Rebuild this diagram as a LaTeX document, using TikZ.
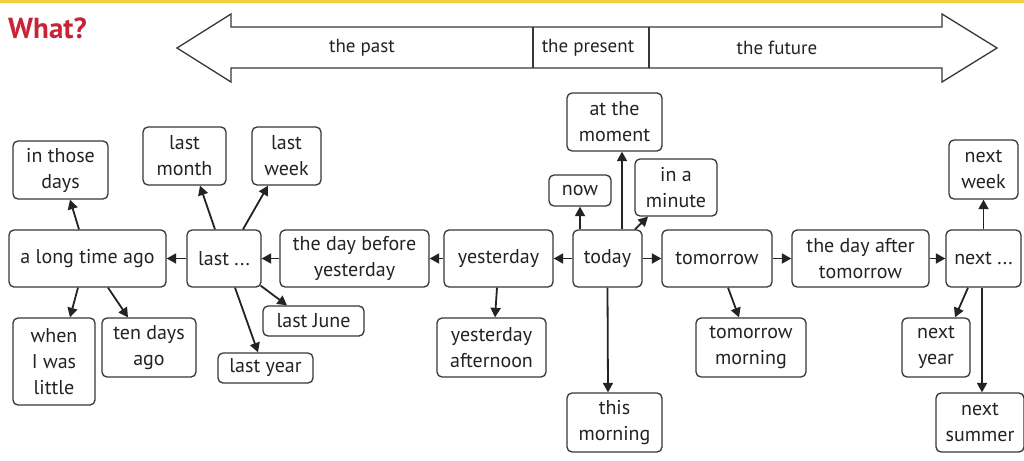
\documentclass[tikz,border=0pt]{standalone}
\usepackage{fontspec}
\setmainfont{PT Sans}
\usepackage{tikz}
\usetikzlibrary{arrows.meta}
\definecolor{linegray}{RGB}{55,55,55}
\definecolor{textgray}{RGB}{35,35,35}
\definecolor{whatred}{RGB}{200,35,55}
\definecolor{topyellow}{RGB}{242,208,62}
\tikzstyle{tbox}=[rectangle,rounded corners=5pt,draw=linegray,line width=1.3pt,fill=white,
                  align=center,inner sep=2pt,text=textgray,font=\fontsize{20}{26}\selectfont]
\tikzstyle{arrow}=[-{Triangle[length=9.5pt,width=10pt]},line width=1.8pt,draw=textgray]
\tikzstyle{bandtext}=[text=textgray,font=\fontsize{19}{23}\selectfont]

\begin{document}
\begin{tikzpicture}[x=1pt,y=-1pt]
      \useasboundingbox (0,0) rectangle (1024,460);
      \fill[topyellow] (0,0) rectangle (1024,3);
      \node[anchor=base west,inner sep=0pt,text=whatred,font=\fontsize{29}{32}\selectfont\bfseries] (what) at (8,38) {What?};

      % time band
      \draw[linegray,line width=1.3pt,fill=white] (177,48) -- (231,14) -- (231,27) -- (942,27) -- (942,14)
           -- (997,48) -- (942,82) -- (942,68) -- (231,68) -- (231,82) -- cycle;
      \draw[linegray,line width=1.3pt] (533,27) -- (533,68) (649,27) -- (649,68);
      \node[bandtext] (past) at (362,48) {the past};
      \node[bandtext] (present) at (588,48) {the present};
      \node[bandtext] (future) at (777,48) {the future};

      % main row
      \node[tbox,minimum width=157pt,minimum height=57pt] (ago) at (87.5,258.5) {a long time ago};
      \node[tbox,minimum width=74pt,minimum height=57pt] (last) at (224,258.5) {last ...};
      \node[tbox,minimum width=149pt,minimum height=57pt] (dby) at (354.5,258.5) {the day before\\yesterday};
      \node[tbox,minimum width=109pt,minimum height=57pt] (yest) at (498.5,258.5) {yesterday};
      \node[tbox,minimum width=69pt,minimum height=57pt] (today) at (607.5,258.5) {today};
      \node[tbox,minimum width=110pt,minimum height=57pt] (tom) at (717,258.5) {tomorrow};
      \node[tbox,minimum width=137pt,minimum height=57pt] (dat) at (860.5,258.5) {the day after\\tomorrow};
      \node[tbox,minimum width=75pt,minimum height=57pt] (next) at (983.5,258.5) {next ...};

      % past side
      \node[tbox,minimum width=95pt,minimum height=58pt] (those) at (60.5,170) {in those\\days};
      \node[tbox,minimum width=82pt,minimum height=87pt] (little) at (54,361.5) {when\\I was\\little};
      \node[tbox,minimum width=94pt,minimum height=59pt] (tendays) at (149,347.5) {ten days\\ago};
      \node[tbox,minimum width=83pt,minimum height=58pt] (month) at (184.5,156) {last\\month};
      \node[tbox,minimum width=69pt,minimum height=58pt] (week) at (286.5,156) {last\\week};
      \node[tbox,minimum width=101pt,minimum height=30pt] (june) at (313.5,321) {last June};
      \node[tbox,minimum width=95pt,minimum height=30pt] (lyear) at (265.5,368) {last year};
      \node[tbox,minimum width=109pt,minimum height=59pt] (yaft) at (491.5,347.5) {yesterday\\afternoon};

      % present
      \node[tbox,minimum width=95pt,minimum height=58pt] (moment) at (614.5,122) {at the\\moment};
      \node[tbox,minimum width=62pt,minimum height=31pt] (now) at (580,190.5) {now};
      \node[tbox,minimum width=82pt,minimum height=57pt] (minute) at (676,187.5) {in a\\minute};
      \node[tbox,minimum width=95pt,minimum height=59pt] (tmorning) at (614.5,422.5) {this\\morning};

      % future side
      \node[tbox,minimum width=110pt,minimum height=59pt] (tommorn) at (751,347.5) {tomorrow\\morning};
      \node[tbox,minimum width=69pt,minimum height=59pt] (nweek) at (983.5,169.5) {next\\week};
      \node[tbox,minimum width=68pt,minimum height=59pt] (nyear) at (936,347.5) {next\\year};
      \node[tbox,minimum width=88pt,minimum height=59pt] (nsummer) at (980,422.5) {next\\summer};

      \draw[arrow] (last)--(ago);
      \draw[arrow] (dby)--(last);
      \draw[arrow] (yest)--(dby);
      \draw[arrow] (today)--(yest);
      \draw[arrow] (today)--(tom);
      \draw[arrow] (tom)--(dat);
      \draw[arrow] (dat)--(next);

      \draw[arrow] ([xshift=-8.5pt]ago.north)--([xshift=9.5pt]those.south);
      \draw[arrow] ([xshift=-9.5pt]ago.south)--([xshift=16pt]little.north);
      \draw[arrow] ([xshift=20.5pt]ago.south)--([xshift=-21pt]tendays.north);
      \draw[arrow] ([xshift=-9pt]last.north)--([xshift=15.5pt]month.south);
      \draw[arrow] ([xshift=19pt]last.north)--([xshift=-18.5pt]week.south);
      \draw[arrow] ([xshift=-1pt,yshift=2pt]last.south east)--([xshift=-26.5pt]june.north);
      \draw[arrow] ([xshift=11pt]last.south)--([xshift=-7.5pt]lyear.north);
      \draw[arrow] ([xshift=-1.5pt]yest.south)--([xshift=3.5pt]yaft.north);

      \draw[arrow] (today.north -| now.south)--(now.south);
      \draw[arrow] ([xshift=14.5pt]today.north)--([xshift=7.5pt]moment.south);
      \draw[arrow] ([xshift=27.5pt]today.north)--([xshift=-28pt]minute.south);
      \draw[arrow] (today.south)--([xshift=-6.5pt]tmorning.north);

      \draw[arrow] ([xshift=11pt]tom.south)--([xshift=-12pt]tommorn.north);
      \draw[arrow] (next)--(nweek);
      \draw[arrow] ([xshift=-15.5pt]next.south)--([xshift=19pt]nyear.north);
      \draw[arrow] ([xshift=-1.5pt]next.south)--([xshift=2pt]nsummer.north);
    \end{tikzpicture}
\end{document}
